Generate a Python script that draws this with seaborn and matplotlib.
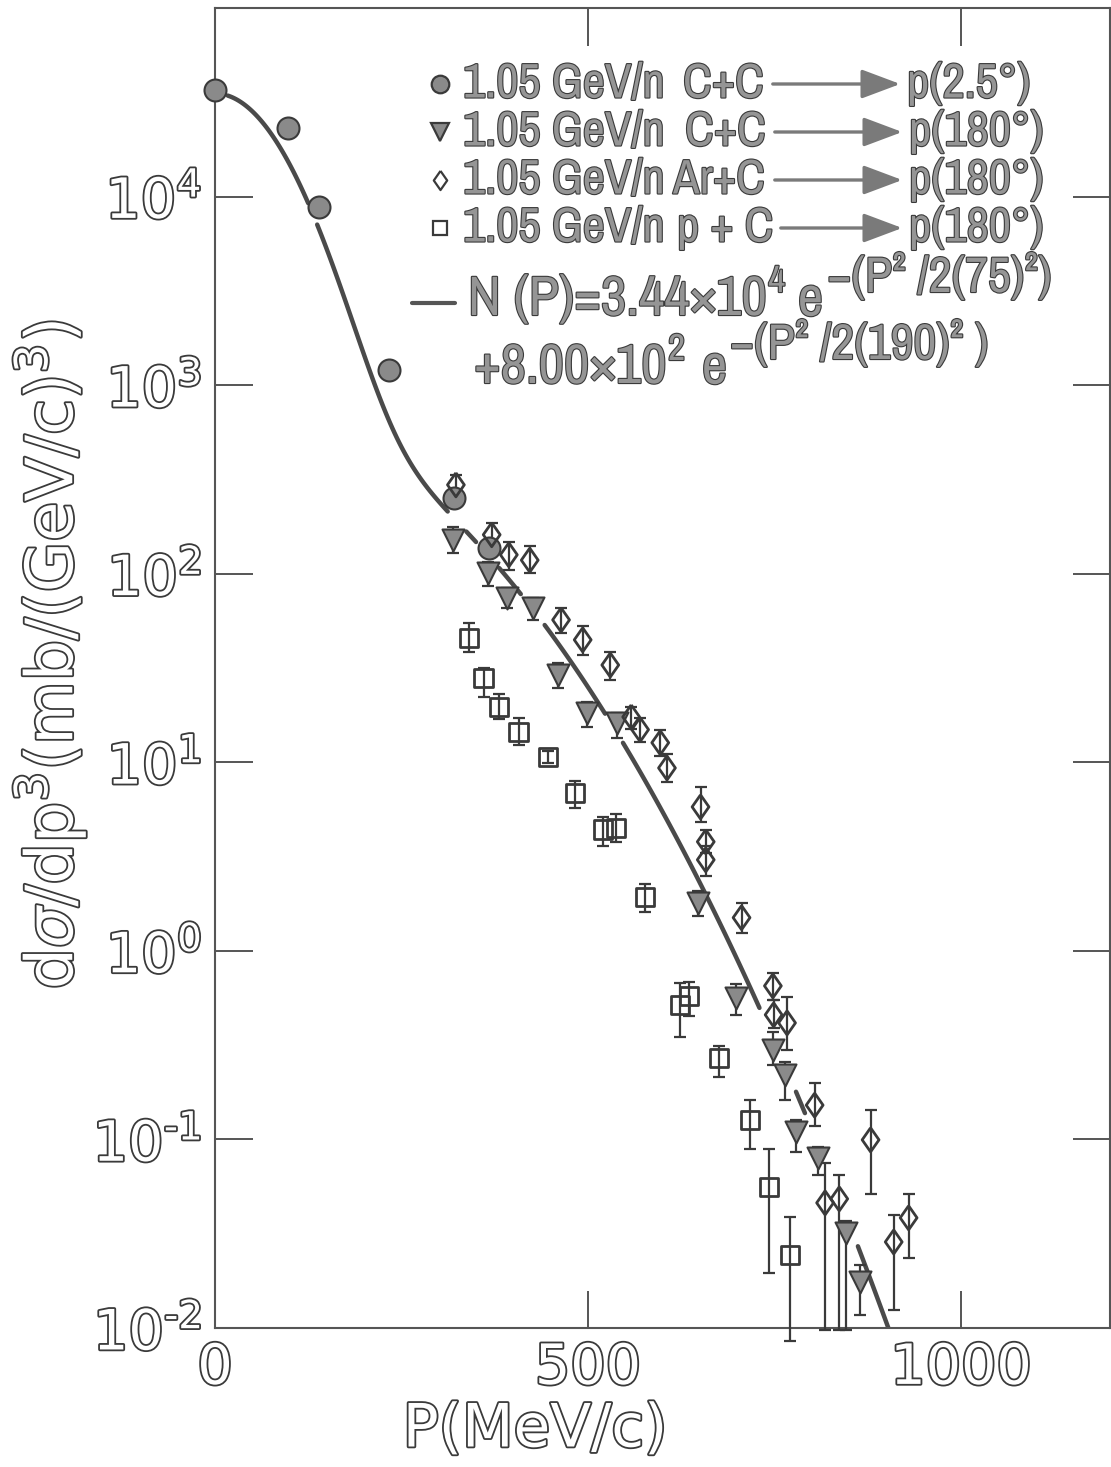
import numpy as np
import pandas as pd
import matplotlib
matplotlib.use("Agg")
import matplotlib.pyplot as plt
import matplotlib.patheffects as pe
from matplotlib.patches import FancyArrowPatch
from matplotlib.font_manager import fontManager
import seaborn as sns

# ---- data ----
# C+C -> p(2.5 deg), filled circles
circ_p = [0, 98, 139, 233, 321, 368]
circ_y = [3.67e4, 2.31e4, 8.8e3, 1.2e3, 252, 137]

# C+C -> p(180 deg), filled triangles
tri_p = [319, 366, 391, 426, 460, 499, 539, 647, 698, 748, 764, 779, 809, 846, 865]
tri_y = [151, 101, 74.5, 65.9, 29.0, 18.3, 16.2, 1.79, 0.564, 0.299, 0.22, 0.110, 0.0798, 0.032, 0.0176]
tri_lo = [129, 86, 66, 56.9, 24.8, 15.4, 13.5, 1.53, 0.458, 0.249, 0.162, 0.086, 0.065, 0.0098, 0.0117]
tri_hi = [177, 116, 84, 74.5, 33.6, 21.0, 18.3, 2.08, 0.668, 0.372, 0.258, 0.127, 0.0914, 0.037, 0.0217]

# Ar+C -> p(180 deg), open diamonds
dia_p = [323, 371, 394, 422, 464, 493, 530, 558, 570, 597, 606, 651, 658, 658, 706,
         748, 749, 767, 804, 879, 818, 837, 930, 910]
dia_y = [296, 161, 126, 118, 56.9, 44.6, 32.8, 17.4, 14.9, 12.7, 9.33, 5.8, 3.79, 3.04, 1.50,
         0.652, 0.458, 0.415, 0.152, 0.0995, 0.0461, 0.0484, 0.0384, 0.0286]
dia_lo = [260, 140, 105, 101, 48.6, 37.1, 27.4, 15.0, 12.8, 10.8, 7.87, 4.83, 3.3, 2.5, 1.24,
          0.55, 0.39, 0.299, 0.118, 0.0515, 0.0098, 0.0098, 0.0235, 0.0125]
dia_hi = [334, 186, 148, 140, 65.9, 52.8, 38.5, 19.7, 17.2, 14.9, 11.0, 7.41, 4.39, 3.6, 1.79,
          0.764, 0.55, 0.57, 0.2, 0.1436, 0.0752, 0.065, 0.0515, 0.0398]

# p+C -> p(180 deg), open squares
sq_p = [340, 360, 381, 407, 447, 483, 520, 538, 577, 623, 636, 676, 717, 743, 771]
sq_y = [45.7, 28.1, 19.7, 14.5, 10.7, 6.9, 4.4, 4.49, 1.93, 0.518, 0.577, 0.271, 0.127, 0.0561, 0.0244]
sq_lo = [38.5, 22.2, 17.0, 12.4, 9.9, 5.73, 3.6, 3.78, 1.61, 0.35, 0.452, 0.215, 0.089, 0.0196, 0.0085]
sq_hi = [54.8, 31.6, 23.1, 17.2, 11.5, 7.96, 5.13, 5.32, 2.26, 0.676, 0.686, 0.313, 0.162, 0.089, 0.0389]

# fit N(P) = A1 exp(-P^2/2 s1^2) + A2 exp(-P^2/2 s2^2), parameters from the legend
A1, S1 = 3.44e4, 75
A2, S2 = 8.00e2, 190
# the drawn curve is broken where it passes the points
fit_pieces = [(17, 125), (137, 312), (337, 350), (381, 410), (442, 523), (547, 730), (779, 791), (862, 908)]

x_ticks = [0, 500, 1000]
y_ticks = [1e-2, 1e-1, 1e0, 1e1, 1e2, 1e3, 1e4]
y_ticklabels = ["$10^{\u20102}$", "$10^{\u20101}$", r"$10^{0}$", r"$10^{1}$", r"$10^{2}$",
                r"$10^{3}$", r"$10^{4}$"]

# ---- style ----
sns.set_theme(style="ticks")
plt.rcParams["font.family"] = ["DejaVu Sans"]
plt.rcParams["mathtext.fontset"] = "dejavusans"

# condensed lettering for the key, if such a face is installed
names = sorted({f.name for f in fontManager.ttflist})
narrow = [n for n in names if "Condensed" in n or "Narrow" in n]
KEY_FONT = narrow[:1] + ["DejaVu Sans"]

INK = "#3a3a3a"
GREY = "#959595"
hollow = [pe.withStroke(linewidth=2.6, foreground=INK)]
inked = [pe.withStroke(linewidth=1.6, foreground=INK)]

W, H = 1111, 1467
fig = plt.figure(figsize=(W / 100, H / 100), dpi=100)
ax = fig.add_axes([215 / W, (H - 1328) / H, (1110 - 215) / W, (1328 - 8) / H])

# fit line
for a, b in fit_pieces:
    pp = np.linspace(a, b, 60)
    nn = A1 * np.exp(-pp**2 / (2 * S1**2)) + A2 * np.exp(-pp**2 / (2 * S2**2))
    sns.lineplot(x=pp, y=nn, ax=ax, color="#4a4a4a", lw=3.2, solid_capstyle="round", zorder=2)

# error bars
for p, y, lo, hi in [(tri_p, tri_y, tri_lo, tri_hi), (dia_p, dia_y, dia_lo, dia_hi), (sq_p, sq_y, sq_lo, sq_hi)]:
    y = np.array(y)
    yerr = [y - np.array(lo), np.array(hi) - y]
    ax.errorbar(p, y, yerr=yerr, fmt="none", ecolor=INK, elinewidth=1.6, capsize=4.5,
                capthick=1.6, zorder=3, clip_on=False)

diamond = [(0, 1), (0.7, 0), (0, -1), (-0.7, 0), (0, 1)]

df_c = pd.DataFrame({"P": circ_p, "N": circ_y})
df_t = pd.DataFrame({"P": tri_p, "N": tri_y})
df_d = pd.DataFrame({"P": dia_p, "N": dia_y})
df_s = pd.DataFrame({"P": sq_p, "N": sq_y})

sns.scatterplot(data=df_c, x="P", y="N", ax=ax, marker="o", s=250, color="#8a8a8a",
                edgecolor=INK, linewidth=1.5, zorder=4, clip_on=False)
sns.scatterplot(data=df_t, x="P", y="N", ax=ax, marker="v", s=250, color="#8a8a8a",
                edgecolor=INK, linewidth=1.5, zorder=5)
sns.scatterplot(data=df_d, x="P", y="N", ax=ax, marker=diamond, s=300, facecolor="none",
                edgecolor=INK, linewidth=2.0, zorder=6)
sns.scatterplot(data=df_s, x="P", y="N", ax=ax, marker="s", s=170, facecolor="none",
                edgecolor=INK, linewidth=2.0, zorder=6)

ax.set_yscale("log")
ax.set_xlim(0, 1200)
ax.set_ylim(1e-2, 1e5)
ax.set_xlabel("")
ax.set_ylabel("")
ax.minorticks_off()
ax.set_xticks(x_ticks)
ax.set_yticks(y_ticks)
for s in ax.spines.values():
    s.set_color("#555555")
    s.set_linewidth(1.5)
ax.tick_params(which="major", direction="in", length=27, width=1.4, color="#555555",
               top=True, right=True, labelsize=40, labelcolor="white", pad=10)
xl = ax.set_xticklabels([str(v) for v in x_ticks])
yl = ax.set_yticklabels(y_ticklabels)
for t in list(xl) + list(yl):
    t.set_path_effects(hollow)

fig.text(535 / W, 1 - 1430 / H, "P(MeV/c)", ha="center", va="center", fontsize=43,
         color="white", path_effects=hollow)
fig.text(50 / W, 1 - 655 / H, r"d$\sigma$/dp$^{3}$(mb/(GeV/c)$^{3}$)", ha="center", va="center",
         rotation=90, fontsize=47, color="white", path_effects=hollow)

# ---- hand-lettered key ----
def fx(x):
    return x / W

def fy(y):
    return 1 - y / H

def key_text(x, y, s, size=35):
    return fig.text(fx(x), fy(y), s, ha="left", va="center", fontsize=size, family=KEY_FONT,
                    color=GREY, path_effects=inked)

def after(prev, s, base, size, dx, yfrac):
    # place a piece of lettering just to the right of the previous one
    return ax.annotate(s, xy=(1, yfrac), xycoords=(prev, base), xytext=(dx, 0),
                       textcoords="offset points", ha="left", va="baseline", fontsize=size,
                       family=KEY_FONT, color=GREY, path_effects=inked, annotation_clip=False)

rows_y = [84, 132, 180, 228]
key_markers = [("o", "#8a8a8a", 160), ("v", "#8a8a8a", 170), (diamond, "white", 190), ("s", "white", 110)]
reactions = ["C+C", "C+C", "Ar+C", "p + C"]
react_x = [683, 685, 673, 677]
arrow_x = [(770, 903), (772, 905), (772, 905), (778, 905)]
products = ["p(2.5°)", "p(180°)", "p(180°)", "p(180°)"]
for i, y in enumerate(rows_y):
    m, fc, sz = key_markers[i]
    fig.add_artist(plt.Line2D([fx(440)], [fy(y)], marker=m, markersize=np.sqrt(sz),
                              markerfacecolor=fc, markeredgecolor=INK, markeredgewidth=1.6))
    key_text(463, y, "1.05 GeV/n")
    key_text(react_x[i], y, reactions[i])
    fig.patches.append(FancyArrowPatch(
        (fx(arrow_x[i][0]), fy(y)), (fx(arrow_x[i][1]), fy(y)), transform=fig.transFigure,
        arrowstyle="-|>,head_length=24,head_width=9", mutation_scale=1,
        color="#7a7a7a", lw=2.4))
    key_text(arrow_x[i][1] + 4, y, products[i])

# fit formula, two lines
fig.add_artist(plt.Line2D([fx(412), fx(455)], [fy(303), fy(303)], color="#555555", lw=3))
t1 = key_text(468, 300, "N (P)=3.44×10", size=40)
s1 = after(t1, "4", t1, 27, 1, 0.66)
e1 = after(s1, "e", t1, 40, 9, 0.19)
after(e1, "−(P² /2(75)²)", t1, 36, 3, 0.66)
t2 = key_text(474, 368, "+8.00×10", size=40)
s2 = after(t2, "2", t2, 27, 1, 0.66)
e2 = after(s2, "e", t2, 40, 12, 0.19)
after(e2, "−(P² /2(190)² )", t2, 36, 2, 0.68)

fig.savefig("out.png", dpi=100, facecolor="white")
